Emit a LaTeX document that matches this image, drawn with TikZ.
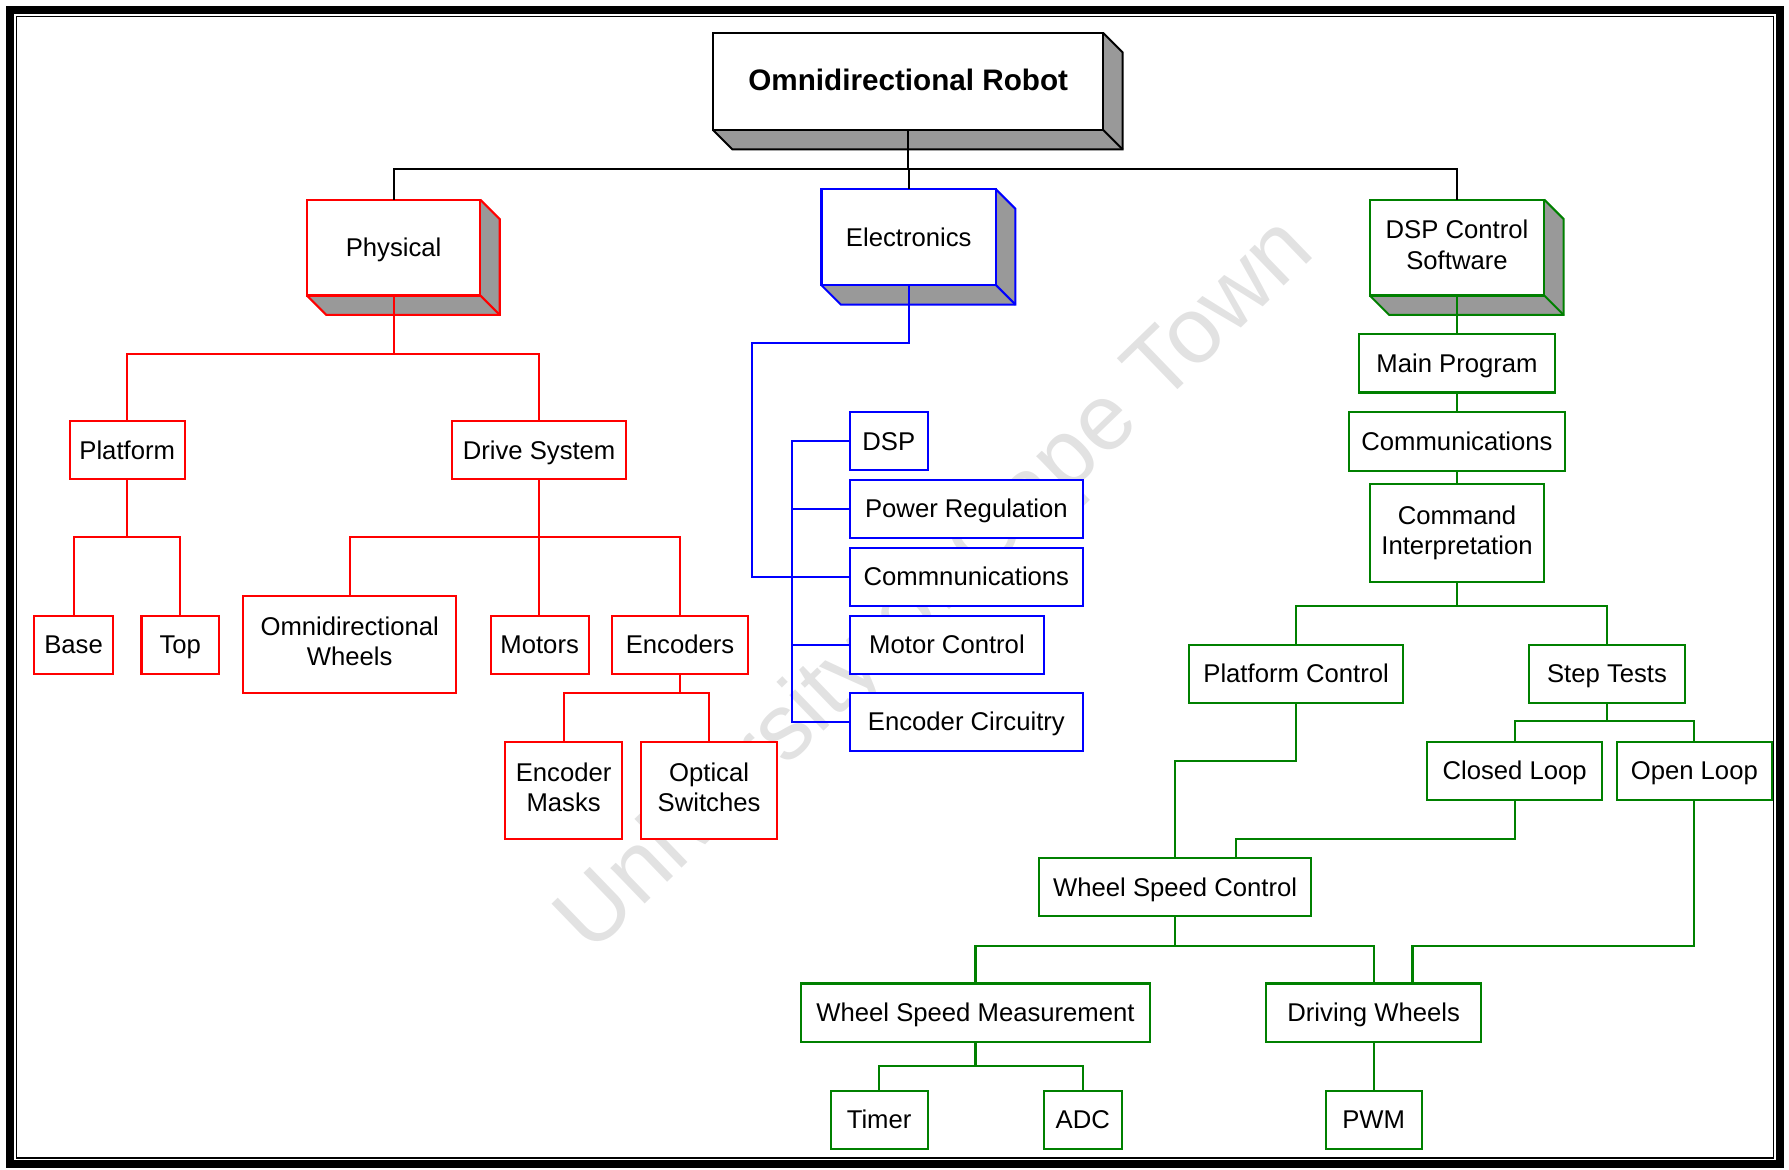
\documentclass[tikz,border=0pt]{standalone}
\usepackage{fontspec}
\setmainfont{Liberation Sans}
\usetikzlibrary{backgrounds}
\definecolor{sidegray}{HTML}{999999}
\definecolor{swgreen}{HTML}{008000}
\definecolor{stamp}{HTML}{E2E2E2}
\newcommand\boxstrut{\rule[-5pt]{0pt}{26pt}}
\tikzset{
  box/.style={draw, fill=white, line width=1.8pt, align=center, inner sep=0pt, outer sep=0pt,
    minimum height=51, font=\fontsize{22.5}{26.5}\selectfont,
    execute at begin node=\boxstrut, execute at end node=\boxstrut},
  robot box/.style={box, draw=black, font=\fontsize{26}{30}\selectfont\bfseries},
  red box/.style={box, draw=red},
  blue box/.style={box, draw=blue},
  green box/.style={box, draw=swgreen},
  link/.style={line width=1.8pt},
  robot link/.style={link, black},
  red link/.style={link, red},
  blue link/.style={link, blue},
  green link/.style={link, swgreen},
  watermark/.style={text=stamp, font=\fontsize{82}{90}\selectfont}
}

\begin{document}
\begin{tikzpicture}[x=1pt, y=-1pt]
  \useasboundingbox (0,0) rectangle (1568,1025);

  % frame
  \draw[line width=7pt] (8.8,8.8) rectangle (1559.8,1020);
  \draw[line width=1.2pt] (14.2,14.2) rectangle (1554.6,1014.8);

  \node[watermark, rotate=44] at (822,515) (stamp) {University of Cape Town};

  % top
  \node[robot box, minimum width=342, minimum height=85] at (796,71.5) (robot) {Omnidirectional Robot};

  % physical
  \node[red box, minimum width=152, minimum height=84] at (345,217) (physical) {Physical};
  \node[red box, minimum width=101] at (111.5,394.5) (platform) {Platform};
  \node[red box, minimum width=153] at (472.5,394.5) (drive) {Drive System};
  \node[red box, minimum width=69] at (64.5,565) (base) {Base};
  \node[red box, minimum width=68] at (158,565) (top) {Top};
  \node[red box, minimum width=187, minimum height=85] at (306.5,564.5) (wheels) {Omnidirectional\\Wheels};
  \node[red box, minimum width=86] at (473,565) (motors) {Motors};
  \node[red box, minimum width=120] at (596,565) (encoders) {Encoders};
  \node[red box, minimum width=102, minimum height=85] at (494,692.5) (masks) {Encoder\\Masks};
  \node[red box, minimum width=119, minimum height=85] at (621.5,692.5) (optical) {Optical\\Switches};

  % electronics
  \node[blue box, minimum width=153, minimum height=84] at (796.5,208) (electronics) {Electronics};
  \node[blue box, minimum width=68] at (779,386.5) (dsp) {DSP};
  \node[blue box, minimum width=204] at (847,446) (power) {Power Regulation};
  \node[blue box, minimum width=204] at (847,505.5) (ecomms) {Commnunications};
  \node[blue box, minimum width=170] at (830,565) (motorctl) {Motor Control};
  \node[blue box, minimum width=204] at (847,632.5) (enccirc) {Encoder Circuitry};

  % software
  \node[green box, minimum width=153, minimum height=84] at (1277,217) (software) {DSP Control\\Software};
  \node[green box, minimum width=171] at (1277,318.5) (mainprog) {Main Program};
  \node[green box, minimum width=189] at (1277,387) (scomms) {Communications};
  \node[green box, minimum width=153, minimum height=86] at (1277,467) (command) {Command\\Interpretation};
  \node[green box, minimum width=188] at (1136,590.5) (platctl) {Platform Control};
  \node[green box, minimum width=137] at (1408.5,590.5) (steps) {Step Tests};
  \node[green box, minimum width=153] at (1327.5,675.5) (closed) {Closed Loop};
  \node[green box, minimum width=136] at (1485,675.5) (open) {Open Loop};
  \node[green box, minimum width=238] at (1030,777.5) (speedctl) {Wheel Speed Control};
  \node[green box, minimum width=306] at (855,887.5) (speedmeas) {Wheel Speed Measurement};
  \node[green box, minimum width=188] at (1204,887.5) (driving) {Driving Wheels};
  \node[green box, minimum width=85] at (770.5,981.5) (timer) {Timer};
  \node[green box, minimum width=68] at (949,981.5) (adc) {ADC};
  \node[green box, minimum width=84] at (1204,981.5) (pwm) {PWM};

  % solid sides, behind the front faces
  \begin{scope}[on background layer]
    \foreach \n/\c in {robot/black, physical/red, electronics/blue, software/swgreen} {
      \fill[sidegray] (\n.south west) -- ++(17,17)
        -- ([shift={(17,17)}]\n.south east) -- ([shift={(17,17)}]\n.north east)
        -- (\n.north east) -- (\n.south east) -- cycle;
      \draw[link, draw=\c] (\n.south west) -- ++(17,17)
        -- ([shift={(17,17)}]\n.south east) -- ([shift={(17,17)}]\n.north east)
        -- (\n.north east);
      \draw[link, draw=\c] (\n.south east) -- ++(17,17);
    }
  \end{scope}

  % links
  \foreach \n in {physical, electronics, software}
    \draw[robot link] (robot.south) -- ++(0,34.5) -| (\n.north);

  \foreach \n in {platform, drive}
    \draw[red link] (physical.south) -- ++(0,51) -| (\n.north);
  \foreach \n in {base, top}
    \draw[red link] (platform.south) -- ++(0,51) -| (\n.north);
  \foreach \n in {wheels, encoders}
    \draw[red link] (drive.south) -- ++(0,51) -| (\n.north);
  \draw[red link] (drive.south) -- (drive.south |- motors.north);
  \foreach \n in {masks, optical}
    \draw[red link] (encoders.south) -- ++(0,17) -| (\n.north);

  \draw[blue link] (electronics.south) -- ++(0,51) -- ++(-137.5,0) |- (ecomms.west);
  \draw[blue link] (dsp.west) -- ++(-51,0) |- (enccirc.west);
  \foreach \n in {power, ecomms, motorctl}
    \draw[blue link] (\n.west) -- ++(-51,0);

  \draw[green link] (software.south) -- (mainprog.north);
  \draw[green link] (mainprog.south) -- (scomms.north);
  \draw[green link] (scomms.south) -- (command.north);
  \foreach \n in {platctl, steps}
    \draw[green link] (command.south) -- ++(0,21) -| (\n.north);
  \foreach \n in {closed, open}
    \draw[green link] (steps.south) -- ++(0,16) -| (\n.north);
  \draw[green link] (platctl.south) -- ++(0,51) -| (speedctl.north);
  \draw[green link] (closed.south) -- ++(0,34) -| ([xshift=53pt]speedctl.north);
  \foreach \n in {speedmeas, driving}
    \draw[green link] (speedctl.south) -- ++(0,26) -| (\n.north);
  \draw[green link] (open.south) -- ++(0,128) -| ([xshift=34pt]driving.north);
  \foreach \n in {timer, adc}
    \draw[green link] (speedmeas.south) -- ++(0,21) -| (\n.north);
  \draw[green link] (driving.south) -- (pwm.north);
\end{tikzpicture}
\end{document}
